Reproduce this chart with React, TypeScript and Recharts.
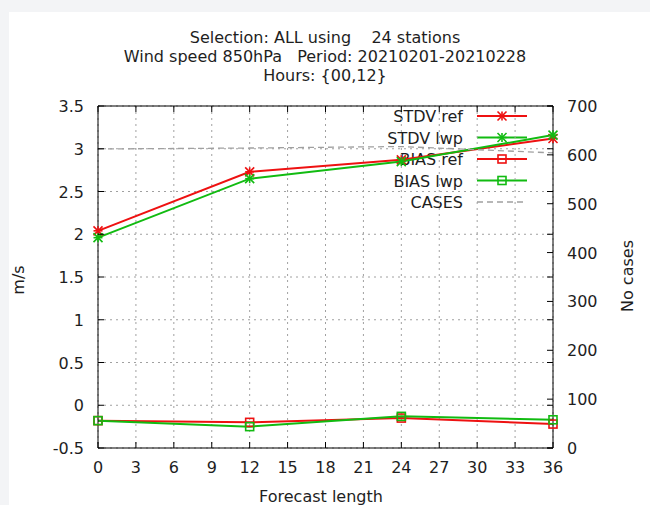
import React from 'react';
import { ComposedChart, Line, XAxis, YAxis, CartesianGrid, ReferenceLine } from 'recharts';

// ---- data ----
const leadTimes = [0, 12, 24, 36];
const stdvRef = [2.04, 2.73, 2.87, 3.12];
const stdvLwp = [1.96, 2.65, 2.85, 3.16];
const biasRef = [-0.18, -0.2, -0.15, -0.22];
const biasLwp = [-0.18, -0.25, -0.13, -0.17];
const cases = [612, 614, 617, 604];

const xTicks = [0, 3, 6, 9, 12, 15, 18, 21, 24, 27, 30, 33, 36];
const yTicks = [-0.5, 0, 0.5, 1, 1.5, 2, 2.5, 3, 3.5];
const y2Ticks = [0, 100, 200, 300, 400, 500, 600, 700];

const titleLines = [
  'Selection: ALL using    24 stations',
  'Wind speed 850hPa   Period: 20210201-20210228',
  'Hours: {00,12}',
];
const legendLabels = ['STDV ref', 'STDV lwp', 'BIAS ref', 'BIAS lwp', 'CASES'];
const xLabel = 'Forecast length';
const yLabel = 'm/s';
const y2Label = 'No cases';

// ---- layout / style ----
const W = 650;
const H = 505;
const PL = 98;
const PR = 553;
const PT = 106;
const PB = 448;
const RED = '#ee1111';
const GREEN = '#11bb11';
const GRAY = '#a0a0a0';
const TXT = '#1e1e1e';
const FONT = '"DejaVu Sans", Verdana, sans-serif';
const FS = 16;

const data = leadTimes.map((t, i) => ({
  t,
  stdvRef: stdvRef[i],
  stdvLwp: stdvLwp[i],
  biasRef: biasRef[i],
  biasLwp: biasLwp[i],
  cases: cases[i],
}));

const Star = ({ cx, cy, color }: any) => {
  const r = 4.5;
  return (
    <g stroke={color} strokeWidth={1.6}>
      <line x1={cx - r} y1={cy} x2={cx + r} y2={cy} />
      <line x1={cx} y1={cy - r} x2={cx} y2={cy + r} />
      <line x1={cx - r} y1={cy - r} x2={cx + r} y2={cy + r} />
      <line x1={cx - r} y1={cy + r} x2={cx + r} y2={cy - r} />
    </g>
  );
};
const Square = ({ cx, cy, color }: any) => (
  <rect x={cx - 4} y={cy - 4} width={8} height={8} fill="none" stroke={color} strokeWidth={1.6} />
);

const starDot = (color: string) => (p: any) =>
  p.cx == null ? <g key={`s${p.index}`} /> : <Star key={`s${p.index}`} cx={p.cx} cy={p.cy} color={color} />;
const squareDot = (color: string) => (p: any) =>
  p.cx == null ? <g key={`q${p.index}`} /> : <Square key={`q${p.index}`} cx={p.cx} cy={p.cy} color={color} />;

const BottomTick = (p: any) => (
  <g>
    <line x1={p.x} y1={PB} x2={p.x} y2={PB - 6} stroke="#000" />
    <line x1={p.x} y1={PT} x2={p.x} y2={PT + 6} stroke="#000" />
    <text x={p.x} y={PB + 25} textAnchor="middle" fontSize={FS} fontFamily={FONT} fill={TXT}>
      {p.payload.value}
    </text>
  </g>
);
const LeftTick = (p: any) => (
  <g>
    <line x1={PL} y1={p.y} x2={PL + 6} y2={p.y} stroke="#000" />
    <line x1={PR} y1={p.y} x2={PR - 6} y2={p.y} stroke="#000" />
    <text x={PL - 14} y={p.y + 6} textAnchor="end" fontSize={FS} fontFamily={FONT} fill={TXT}>
      {p.payload.value}
    </text>
  </g>
);
const RightTick = (p: any) => (
  <g>
    <line x1={PR} y1={p.y} x2={PR - 6} y2={p.y} stroke="#000" />
    <text x={PR + 14} y={p.y + 6} textAnchor="start" fontSize={FS} fontFamily={FONT} fill={TXT}>
      {p.payload.value}
    </text>
  </g>
);

const legendRows = [
  { label: legendLabels[0], color: RED, kind: 'star', y: 116 },
  { label: legendLabels[1], color: GREEN, kind: 'star', y: 137.5 },
  { label: legendLabels[2], color: RED, kind: 'square', y: 159 },
  { label: legendLabels[3], color: GREEN, kind: 'square', y: 180.5 },
  { label: legendLabels[4], color: GRAY, kind: 'dash', y: 202 },
];

export default function App() {
  return (
    <div style={{ position: 'absolute', left: 0, top: 0, width: W, height: H, background: '#f3f4f6', overflow: 'hidden' }}>
      <div style={{ position: 'absolute', left: 9, top: 12, width: W - 9, height: H - 12, background: '#ffffff' }} />
      <svg width={W} height={H} style={{ position: 'absolute', left: 0, top: 0 }}>
        <g fontFamily={FONT} fontSize={FS} fill={TXT}>
          {titleLines.map((t, i) => (
            <text key={i} x={325} y={43 + i * 19} textAnchor="middle" style={{ whiteSpace: 'pre' }}>
              {t}
            </text>
          ))}
          <text x={321} y={502} textAnchor="middle">{xLabel}</text>
          <text x={0} y={0} textAnchor="middle" transform="translate(24,280) rotate(-90)">{yLabel}</text>
          <text x={0} y={0} textAnchor="middle" transform="translate(633,276) rotate(-90)">{y2Label}</text>
          {legendRows.map((r) => (
            <g key={r.label}>
              <text x={463} y={r.y + 6} textAnchor="end">{r.label}</text>
              {r.kind === 'dash' ? (
                <line x1={477} y1={r.y} x2={527} y2={r.y} stroke={GRAY} strokeWidth={1.3} strokeDasharray="6 4" />
              ) : (
                <line x1={477} y1={r.y} x2={527} y2={r.y} stroke={r.color} strokeWidth={2} />
              )}
              {r.kind === 'star' && <Star cx={502} cy={r.y} color={r.color} />}
              {r.kind === 'square' && <Square cx={502} cy={r.y} color={r.color} />}
            </g>
          ))}
        </g>
      </svg>
      <div style={{ position: 'absolute', left: 0, top: 0 }}>
        <ComposedChart
          width={W}
          height={H}
          data={data}
          margin={{ top: PT, right: 0, bottom: H - PB - 30, left: 0 }}
        >
          <CartesianGrid stroke={GRAY} strokeDasharray="2 4" strokeWidth={1} />
          <XAxis
            dataKey="t"
            type="number"
            domain={[0, 36]}
            ticks={xTicks}
            interval={0}
            height={30}
            tickSize={0}
            tickMargin={0}
            tickLine={false}
            axisLine={{ stroke: '#000' }}
            tick={BottomTick}
          />
          <YAxis
            type="number"
            domain={[-0.5, 3.5]}
            ticks={yTicks}
            interval={0}
            width={PL}
            tickSize={0}
            tickMargin={0}
            tickLine={false}
            axisLine={{ stroke: '#000' }}
            tick={LeftTick}
          />
          <YAxis
            yAxisId="cases"
            orientation="right"
            type="number"
            domain={[0, 700]}
            ticks={y2Ticks}
            interval={0}
            width={W - PR}
            tickSize={0}
            tickMargin={0}
            tickLine={false}
            axisLine={{ stroke: '#000' }}
            tick={RightTick}
          />
          <ReferenceLine y={3.5} stroke="#000" strokeWidth={1} />
          <Line dataKey="stdvRef" stroke={RED} strokeWidth={2} dot={starDot(RED)} isAnimationActive={false} />
          <Line dataKey="stdvLwp" stroke={GREEN} strokeWidth={2} dot={starDot(GREEN)} isAnimationActive={false} />
          <Line dataKey="biasRef" stroke={RED} strokeWidth={2} dot={squareDot(RED)} isAnimationActive={false} />
          <Line dataKey="biasLwp" stroke={GREEN} strokeWidth={2} dot={squareDot(GREEN)} isAnimationActive={false} />
          <Line
            yAxisId="cases"
            dataKey="cases"
            stroke={GRAY}
            strokeWidth={1.3}
            strokeDasharray="6 4"
            dot={false}
            isAnimationActive={false}
          />
        </ComposedChart>
      </div>
    </div>
  );
}
